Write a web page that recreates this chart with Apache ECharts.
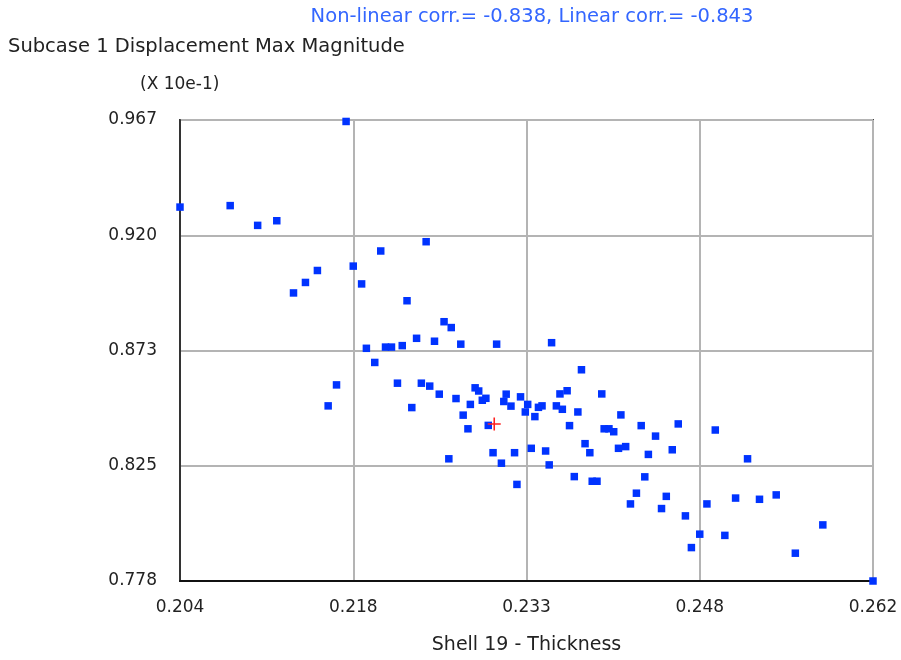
<!DOCTYPE html>
<html>
<head>
<meta charset="utf-8">
<title>Shell 19 - Thickness vs Displacement</title>
<script src="https://cdn.jsdelivr.net/npm/echarts@6/dist/echarts.min.js"></script>
<style>
  html, body { margin: 0; padding: 0; background: #fff; }
  #chart { width: 901px; height: 660px; }
</style>
</head>
<body>
<div id="chart"></div>
<script>
// tick labels (evenly spaced, rounded values)
const xTickLabels = ['0.204', '0.218', '0.233', '0.248', '0.262']
const yTickLabels = ['0.778', '0.825', '0.873', '0.920', '0.967']

// Shell 19 thickness of each sample
const thickness = [
  0.2040, 0.2082, 0.2105, 0.2121, 0.2179, 0.2208, 0.2185, 0.2155, 0.2145, 0.2135,
  0.2192, 0.2230, 0.2246, 0.2261, 0.2267, 0.2238, 0.2253, 0.2226, 0.2275, 0.2305,
  0.2351, 0.2196, 0.2212, 0.2217, 0.2203, 0.2171, 0.2164, 0.2222, 0.2242, 0.2249,
  0.2257, 0.2271, 0.2287, 0.2290, 0.2293, 0.2296, 0.2283, 0.2234, 0.2277, 0.2281,
  0.2298, 0.2313, 0.2311, 0.2317, 0.2325, 0.2331, 0.2329, 0.2337, 0.2340, 0.2343,
  0.2355, 0.2358, 0.2360, 0.2364, 0.2366, 0.2373, 0.2376, 0.2393, 0.2409, 0.2395,
  0.2399, 0.2403, 0.2426, 0.2379, 0.2383, 0.2407, 0.2413, 0.2432, 0.2265, 0.2302,
  0.2320, 0.2334, 0.2346, 0.2309, 0.2349, 0.2322, 0.2370, 0.2385, 0.2389, 0.2429,
  0.2422, 0.2417, 0.2438, 0.2457, 0.2452, 0.2488, 0.2515, 0.2447, 0.2443, 0.2463,
  0.2481, 0.2475, 0.2468, 0.2496, 0.2505, 0.2525, 0.2539, 0.2578, 0.2555, 0.2620
]

// Subcase 1 displacement max magnitude (x 10e-1) of each sample
const displacement = [
  0.9313, 0.9319, 0.9238, 0.9257, 0.9664, 0.9133, 0.9071, 0.9053, 0.9004, 0.8961,
  0.8998, 0.8929, 0.9171, 0.8843, 0.8819, 0.8775, 0.8763, 0.8745, 0.8751, 0.8751,
  0.8757, 0.8734, 0.8739, 0.8739, 0.8676, 0.8584, 0.8498, 0.8591, 0.8591, 0.8579,
  0.8546, 0.8528, 0.8572, 0.8559, 0.8521, 0.8529, 0.8504, 0.8491, 0.8460, 0.8404,
  0.8418, 0.8546, 0.8516, 0.8497, 0.8535, 0.8504, 0.8473, 0.8454, 0.8492, 0.8498,
  0.8498, 0.8547, 0.8484, 0.8560, 0.8417, 0.8473, 0.8646, 0.8547, 0.8461, 0.8404,
  0.8404, 0.8392, 0.8417, 0.8343, 0.8306, 0.8324, 0.8331, 0.8299, 0.8281, 0.8306,
  0.8306, 0.8324, 0.8313, 0.8263, 0.8256, 0.8176, 0.8208, 0.8189, 0.8189, 0.8207,
  0.8140, 0.8096, 0.8374, 0.8424, 0.8318, 0.8399, 0.8281, 0.8127, 0.8077, 0.8047,
  0.8096, 0.7972, 0.7917, 0.7967, 0.8120, 0.8115, 0.8133, 0.8010, 0.7894, 0.7780
]

// nominal design point (red cross)
const nominalPoint = [0.2303, 0.8424]

const points = thickness.map((t, i) => [t, displacement[i]])

const chart = echarts.init(document.getElementById('chart'), null, { renderer: 'canvas' })

const labelFont = {
  fontFamily: 'DejaVu Sans',
  fontSize: 17,
  color: '#222'
}

chart.setOption({
  backgroundColor: '#fff',
  animation: false,
  title: [
    {
      text: 'Non-linear corr.= -0.838, Linear corr.= -0.843',
      left: 527,
      top: 2,
      textAlign: 'center',
      textStyle: { fontFamily: 'DejaVu Sans', fontSize: 19.5, fontWeight: 'normal', color: '#3366ff' }
    },
    {
      text: 'Subcase 1 Displacement Max Magnitude',
      left: 3,
      top: 32,
      textStyle: { fontFamily: 'DejaVu Sans', fontSize: 19.5, fontWeight: 'normal', color: '#222' }
    },
    {
      text: '(X 10e-1)',
      left: 135,
      top: 71,
      textStyle: { fontFamily: 'DejaVu Sans', fontSize: 17, fontWeight: 'normal', color: '#222' }
    }
  ],
  grid: {
    left: 180,
    right: 28,
    top: 120,
    bottom: 79,
    show: true,
    borderColor: '#444',
    borderWidth: 2
  },
  xAxis: [
    {
      type: 'category',
      data: xTickLabels,
      boundaryGap: false,
      name: 'Shell 19 - Thickness',
      nameLocation: 'middle',
      nameGap: 55,
      nameTextStyle: { fontFamily: 'DejaVu Sans', fontSize: 19, color: '#222' },
      axisLine: { lineStyle: { color: '#111', width: 2 } },
      axisTick: { show: false },
      axisLabel: Object.assign({ interval: 0, margin: 18 }, labelFont),
      splitLine: { show: true, lineStyle: { color: '#b4b4b4', width: 2 } }
    },
    {
      type: 'value',
      min: 0.204,
      max: 0.262,
      show: false
    }
  ],
  yAxis: [
    {
      type: 'category',
      data: yTickLabels,
      boundaryGap: false,
      axisLine: { lineStyle: { color: '#333', width: 2 } },
      axisTick: { show: false },
      axisLabel: Object.assign({ interval: 0, margin: 23, padding: [0, 0, 4, 0] }, labelFont),
      splitLine: { show: true, lineStyle: { color: '#b4b4b4', width: 2 } }
    },
    {
      type: 'value',
      min: 0.778,
      max: 0.967,
      show: false
    }
  ],
  series: [
    {
      type: 'scatter',
      xAxisIndex: 1,
      yAxisIndex: 1,
      symbol: 'rect',
      symbolSize: 7.5,
      clip: false,
      itemStyle: { color: '#0033ff', opacity: 1 },
      data: points
    },
    {
      type: 'scatter',
      xAxisIndex: 1,
      yAxisIndex: 1,
      symbol: 'path://M5.5,0h1.5v5.5h5.5v1.5h-5.5v5.5h-1.5v-5.5h-5.5v-1.5h5.5z',
      symbolSize: 13,
      clip: false,
      z: 3,
      itemStyle: { color: '#ff2020', opacity: 1 },
      data: [nominalPoint]
    }
  ]
})
</script>
</body>
</html>
